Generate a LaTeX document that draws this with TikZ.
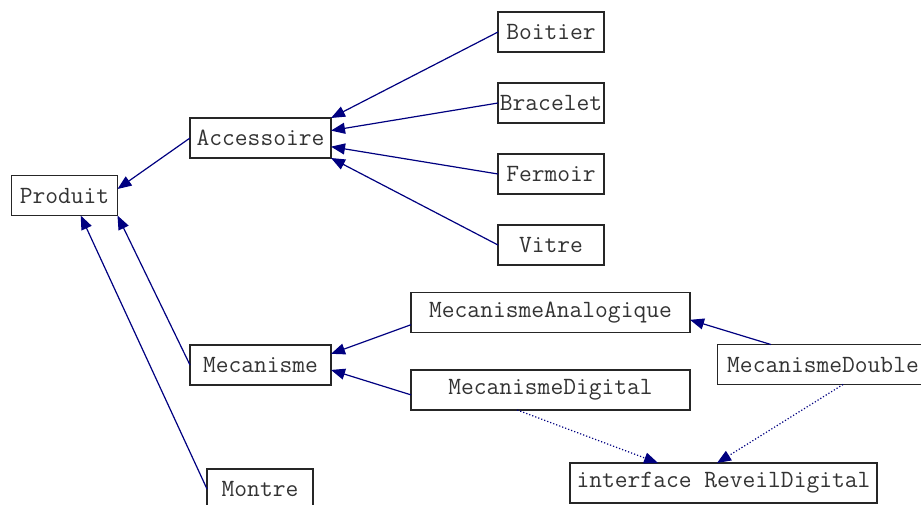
\documentclass[tikz,border=0pt]{standalone}
\usepackage{xcolor}
\definecolor{umlEdge}{rgb}{0,0,0.5}
\definecolor{umlBorder}{rgb}{0.15,0.15,0.15}
\definecolor{umlText}{rgb}{0.2,0.2,0.2}
\usepackage{tikz}
\usetikzlibrary{arrows.meta}
\usetikzlibrary{positioning}
\tikzstyle{class} = [draw=umlBorder, line width=0.6pt, fill=white, text=umlText,
        font={\fontsize{12.4}{14}\selectfont\ttfamily},
        inner sep=0pt, outer sep=0pt, minimum height=20pt, minimum width=53pt]
\tikzstyle{extends} = [draw=umlEdge, line width=0.6pt, -{Triangle[length=7pt,width=5.5pt]}]
\tikzstyle{realizes} = [extends, dash pattern=on 0.6pt off 1pt]

\begin{document}
\begin{tikzpicture}[on grid]
            \useasboundingbox (0,0) rectangle (460.5pt,-252pt);
            \node [class] (produit) at (32.25pt,-97.75pt) {Produit};
            \node [class, minimum width=70.5pt, above right=28.75pt and 98pt of produit] (accessoire) {Accessoire};
            \node [class, minimum width=70.5pt, below right=84.75pt and 98pt of produit] (mecanisme) {Mecanisme};
            \node [class, below right=146.75pt and 97.75pt of produit] (montre) {Montre};
            \node [class, above right=53pt and 145.25pt of accessoire] (boitier) {Boitier};
            \node [class, below=35.5pt of boitier] (bracelet) {Bracelet};
            \node [class, below=35.5pt of bracelet] (fermoir) {Fermoir};
            \node [class, below=35.5pt of fermoir] (vitre) {Vitre};
            \node [class, minimum width=139.5pt, above right=26.25pt and 145pt of mecanisme] (analogique) {MecanismeAnalogique};
            \node [class, minimum width=139.5pt, below=38.75pt of analogique] (digital) {MecanismeDigital};
            \node [class, minimum width=105.5pt, below right=26pt and 136.25pt of analogique] (double) {MecanismeDouble};
            \node [class, minimum width=153.5pt, below right=46.5pt and 86.5pt of digital] (reveil) {interface ReveilDigital};
            \draw [extends] (accessoire.west) -- (produit.7);
            \draw [extends] (mecanisme.west) -- (produit.south east);
            \draw [extends] (montre.west) -- (produit.-51.5);
            \draw [extends] (boitier.west) -- (accessoire.north east);
            \draw [extends] (bracelet.west) -- (accessoire.6.5);
            \draw [extends] (fermoir.west) -- (accessoire.-7.3);
            \draw [extends] (vitre.west) -- (accessoire.south east);
            \draw [extends] (analogique.185.1) -- (mecanisme.9.7);
            \draw [extends] (digital.182.9) -- (mecanisme.-4);
            \draw [extends] (double.159.3) -- (analogique.-3.1);
            \draw [realizes] (digital.211.6) -- (reveil.163.7);
            \draw [realizes] (double.-45) -- (reveil.108);
        \end{tikzpicture}
\end{document}
